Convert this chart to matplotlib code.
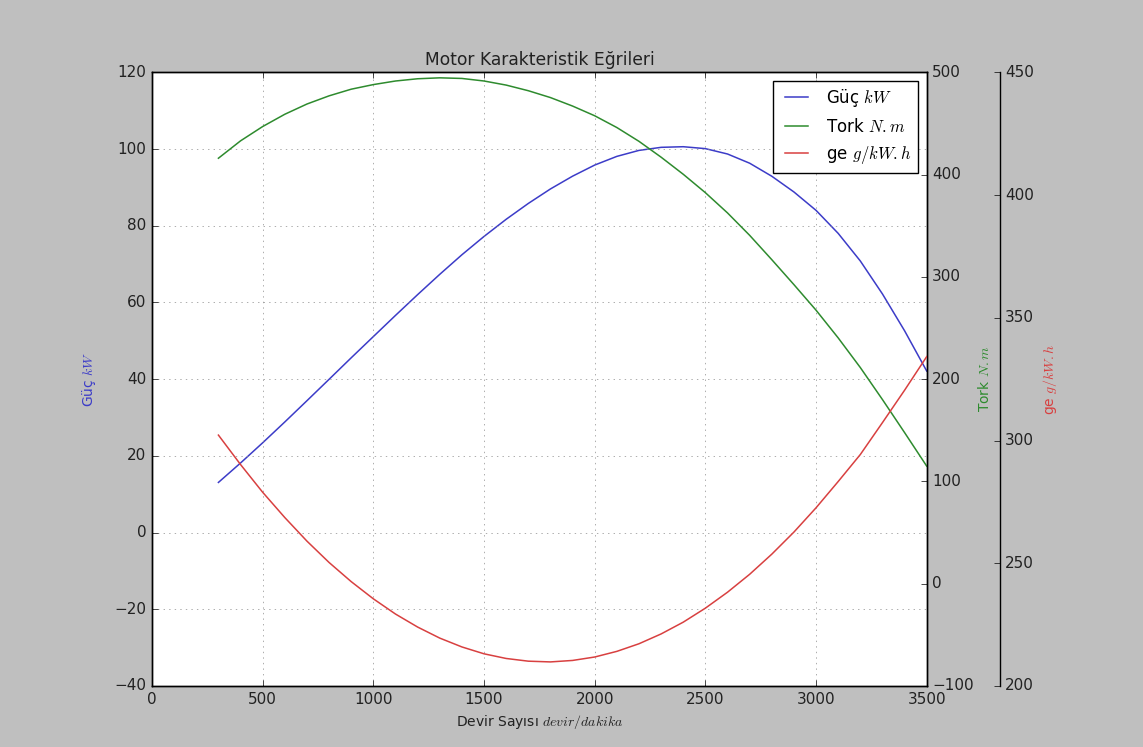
import matplotlib
matplotlib.use('Agg')
import matplotlib.pyplot as plt
import numpy as np

plt.style.use('classic')

# devir (d/dk)
devir = np.arange(300, 3600, 100)

# motor gucu (kW)
guc = [13.07, 18.14, 23.41, 28.84, 34.38, 39.96, 45.57, 51.10, 56.62, 62.04,
       67.33, 72.43, 77.21, 81.68, 85.81, 89.59, 92.92, 95.82, 98.08, 99.64,
       100.44, 100.6, 100.1, 98.7, 96.3, 92.9, 88.8, 84.0, 78.0, 70.8,
       62.2, 52.6, 42.1]

# tork (N.m)
tork = [416, 433, 447, 459, 469, 477, 483.5, 488, 491.5, 493.7,
        494.6, 494, 491.5, 487.5, 482, 475.3, 467, 457.5, 446, 432.5,
        417, 400.3, 382.3, 362.5, 340.6, 316.8, 292.4, 267.4, 240.3, 211.3,
        180.0, 147.7, 114.9]

# ozgul yakit tuketimi (g/kW.h)
ge = [302.2, 290.2, 278.9, 268.6, 259.0, 250.3, 242.5, 235.5, 229.3, 224.0,
      219.5, 215.9, 213.1, 211.2, 210.1, 209.8, 210.4, 211.8, 214.1, 217.2,
      221.2, 226.0, 231.7, 238.2, 245.5, 253.7, 262.7, 272.6, 283.3, 294.3,
      307.3, 320.5, 334.2]

mavi = '#3c3cc8'
yesil = '#2e8b2e'
kirmizi = '#d84040'

fig = plt.figure(figsize=(11.43, 7.47), dpi=100, facecolor='#bfbfbf')
ax = fig.add_axes([0.133, 0.0817, 0.6778, 0.8215])
par1 = ax.twinx()
par2 = ax.twinx()

par2.spines['right'].set_position(('axes', 1.094))
par2.set_frame_on(True)
par2.patch.set_visible(False)
for sp in par2.spines.values():
    sp.set_visible(False)
par2.spines['right'].set_visible(True)

p1, = ax.plot(devir, guc, '-', color=mavi, lw=1.1, label='Güç $kW$')
p2, = par1.plot(devir, tork, '-', color=yesil, lw=1.1, label='Tork $N.m$')
p3, = par2.plot(devir, ge, '-', color=kirmizi, lw=1.1, label='ge $g/kW.h$')

ax.set_xlim(0, 3500)
ax.set_ylim(-40, 120)
par1.set_ylim(-100, 500)
par2.set_ylim(200, 450)

ax.set_title('Motor Karakteristik Eğrileri', fontsize=12.3, color='#222222')
ax.set_xlabel('Devir Sayısı $devir/dakika$', fontsize=10, color='#222222')
ax.set_ylabel('Güç $kW$', fontsize=10, color=mavi, labelpad=12)
par1.set_ylabel('Tork $N.m$', fontsize=10, color=yesil, labelpad=2)
par2.set_ylabel('ge $g/kW.h$', fontsize=10, color=kirmizi)

for a in (ax, par1, par2):
    a.tick_params(labelsize=11, labelcolor='#222222')

ax.grid(True, color='0.55')

lines = [p1, p2, p3]
ax.legend(lines, [l.get_label() for l in lines], loc='upper right', fontsize=12)

fig.savefig('out.png', dpi=100, facecolor=fig.get_facecolor())
